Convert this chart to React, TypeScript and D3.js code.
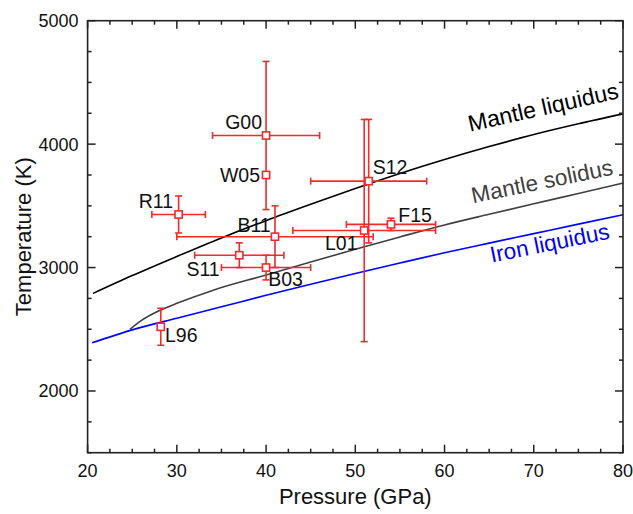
import * as d3 from 'd3';
import React from 'react';

// axis ticks
const pressureTicks = [20, 30, 40, 50, 60, 70, 80];
const temperatureTicks = [2000, 3000, 4000, 5000];

// experimental points (GPa, K) with error bars
const sampleNames = ['G00', 'W05', 'R11', 'B11', 'S11', 'B03', 'L96', 'S12', 'F15', 'L01'];
const samplePressure = [40, 40, 30.2, 41, 37, 40, 28.2, 51.5, 54, 51];
const samplePressureErr = [6, 0, 3, 11, 5, 5, 0, 6.5, 5, 8];
const sampleTemp = [4070, 3750, 3430, 3250, 3100, 3000, 2520, 3700, 3350, 3300];
const sampleTempErr = [600, 0, 150, 250, 100, 100, 150, 500, 50, 900];

// melting curves
const mantleLiquidusP = [20.6, 25, 30, 35, 40, 45, 50, 55, 60, 65, 70, 75, 80];
const mantleLiquidusT = [2790, 2935, 3090, 3240, 3380, 3512, 3640, 3762, 3875, 3980, 4078, 4165, 4245];
const mantleSolidusP = [24.75, 26, 28, 30, 34, 40, 45, 50, 55, 60, 65, 70, 75, 80];
const mantleSolidusT = [2500, 2570, 2650, 2710, 2815, 2940, 3045, 3148, 3248, 3345, 3432, 3517, 3600, 3685];
const ironLiquidusP = [20.5, 25, 30, 35, 40, 45, 50, 55, 60, 65, 70, 75, 80];
const ironLiquidusT = [2390, 2495, 2590, 2682, 2775, 2865, 2952, 3037, 3120, 3198, 3275, 3352, 3428];

const W = 633;
const H = 514;
const margin = { top: 20.7, right: 10, bottom: 61.3, left: 87.6 };
const RED = '#f22a2a';
const FONT = '"Liberation Sans", Arial, sans-serif';

// label placement relative to each point: [anchor, dx, dy]
const labelOffset: Record<string, [string, number, number]> = {
  G00: ['end', -4, -6.5],
  W05: ['end', -6, 7.3],
  R11: ['end', -5.5, -6.7],
  B11: ['end', -4.3, -4.4],
  S11: ['end', -19.6, 20.5],
  B03: ['start', 2.2, 18.4],
  L96: ['start', 4.2, 15.5],
  S12: ['start', 4, -6.9],
  F15: ['start', 7.3, -2.7],
  L01: ['end', -6.7, 19.5],
};

const App = () => {
  const x = d3.scaleLinear().domain([20, 80]).range([margin.left, W - margin.right]);
  const y = d3.scaleLinear().domain([1500, 5000]).range([H - margin.bottom, margin.top]);

  const line = d3.line<[number, number]>()
    .x(d => x(d[0]))
    .y(d => y(d[1]))
    .curve(d3.curveMonotoneX);

  const curves = [
    { P: mantleLiquidusP, T: mantleLiquidusT, color: '#000000' },
    { P: mantleSolidusP, T: mantleSolidusT, color: '#404040' },
    { P: ironLiquidusP, T: ironLiquidusT, color: '#0000ff' },
  ];

  const curveLabels = [
    { text: 'Mantle liquidus', p: 62.85, t: 4100, angle: -12.7, size: 23, color: '#000000' },
    { text: 'Mantle solidus', p: 63.2, t: 3520, angle: -11.6, size: 22.5, color: '#404040' },
    { text: 'Iron liquidus', p: 65.28, t: 3040, angle: -11.4, size: 22.5, color: '#0000ff' },
  ];

  const xMinor = d3.range(20, 80.01, 2.5);
  const yMinor = d3.range(1500, 5000.01, 250);
  const x0 = x(20), x1 = x(80), y0 = y(1500), y1 = y(5000);
  const cap = 3.5;
  const sq = 3.6;

  return (
    <svg width={W} height={H} style={{ position: 'absolute', left: 0, top: 0, background: '#fff' }}
      fontFamily={FONT}>
      <rect width={W} height={H} fill="#fff" />

      {/* curves */}
      {curves.map((c, i) => (
        <path key={i} d={line(c.P.map((p, j) => [p, c.T[j]]) as [number, number][]) || ''}
          fill="none" stroke={c.color} strokeWidth={1.6} />
      ))}
      {curveLabels.map((c, i) => (
        <text key={i} x={x(c.p)} y={y(c.t)} fontSize={c.size} fill={c.color}
          transform={`rotate(${c.angle},${x(c.p)},${y(c.t)})`}>{c.text}</text>
      ))}

      {/* error bars and points */}
      {sampleNames.map((name, i) => {
        const px = x(samplePressure[i]);
        const py = y(sampleTemp[i]);
        const ex = samplePressureErr[i];
        const et = sampleTempErr[i];
        return (
          <g key={name} stroke={RED} strokeWidth={1.6} fill="none">
            {ex > 0 && (
              <g>
                <line x1={x(samplePressure[i] - ex)} x2={x(samplePressure[i] + ex)} y1={py} y2={py} />
                <line x1={x(samplePressure[i] - ex)} x2={x(samplePressure[i] - ex)} y1={py - cap} y2={py + cap} />
                <line x1={x(samplePressure[i] + ex)} x2={x(samplePressure[i] + ex)} y1={py - cap} y2={py + cap} />
              </g>
            )}
            {et > 0 && (
              <g>
                <line x1={px} x2={px} y1={y(sampleTemp[i] - et)} y2={y(sampleTemp[i] + et)} />
                <line x1={px - cap} x2={px + cap} y1={y(sampleTemp[i] - et)} y2={y(sampleTemp[i] - et)} />
                <line x1={px - cap} x2={px + cap} y1={y(sampleTemp[i] + et)} y2={y(sampleTemp[i] + et)} />
              </g>
            )}
          </g>
        );
      })}
      {sampleNames.map((name, i) => {
        const px = x(samplePressure[i]);
        const py = y(sampleTemp[i]);
        const [anchor, dx, dy] = labelOffset[name];
        return (
          <g key={name}>
            <rect x={px - sq} y={py - sq} width={sq * 2} height={sq * 2}
              fill="#fff" stroke={RED} strokeWidth={1.6} />
            <text x={px + dx} y={py + dy} textAnchor={anchor} fontSize={19.5} fill="#111">{name}</text>
          </g>
        );
      })}

      {/* frame */}
      <rect x={x0} y={y1} width={x1 - x0} height={y0 - y1} fill="none" stroke="#222" strokeWidth={1.6} />

      {/* ticks, inward on all four sides */}
      <g stroke="#222" strokeWidth={1.5}>
        {xMinor.map(v => {
          const len = pressureTicks.includes(v) ? 8 : 4;
          return (
            <g key={'x' + v}>
              <line x1={x(v)} x2={x(v)} y1={y0} y2={y0 - len} />
              <line x1={x(v)} x2={x(v)} y1={y1} y2={y1 + len} />
            </g>
          );
        })}
        {yMinor.map(v => {
          const len = v % 1000 === 0 ? 8 : 4;
          return (
            <g key={'y' + v}>
              <line x1={x0} x2={x0 + len} y1={y(v)} y2={y(v)} />
              <line x1={x1} x2={x1 - len} y1={y(v)} y2={y(v)} />
            </g>
          );
        })}
      </g>

      {/* tick labels */}
      {pressureTicks.map(v => (
        <text key={'xl' + v} x={x(v)} y={y0 + 24} textAnchor="middle" fontSize={18} fill="#111">{v}</text>
      ))}
      {temperatureTicks.map(v => (
        <text key={'yl' + v} x={x0 - 9} y={y(v) + 6.5} textAnchor="end" fontSize={18} fill="#111">{v}</text>
      ))}

      {/* axis titles */}
      <text x={(x0 + x1) / 2} y={y0 + 51} textAnchor="middle" fontSize={22} fill="#111">Pressure (GPa)</text>
      <text x={0} y={0} textAnchor="middle" fontSize={22} fill="#111"
        transform={`translate(31,${(y0 + y1) / 2}) rotate(-90)`}>Temperature (K)</text>
    </svg>
  );
};

export default App;
